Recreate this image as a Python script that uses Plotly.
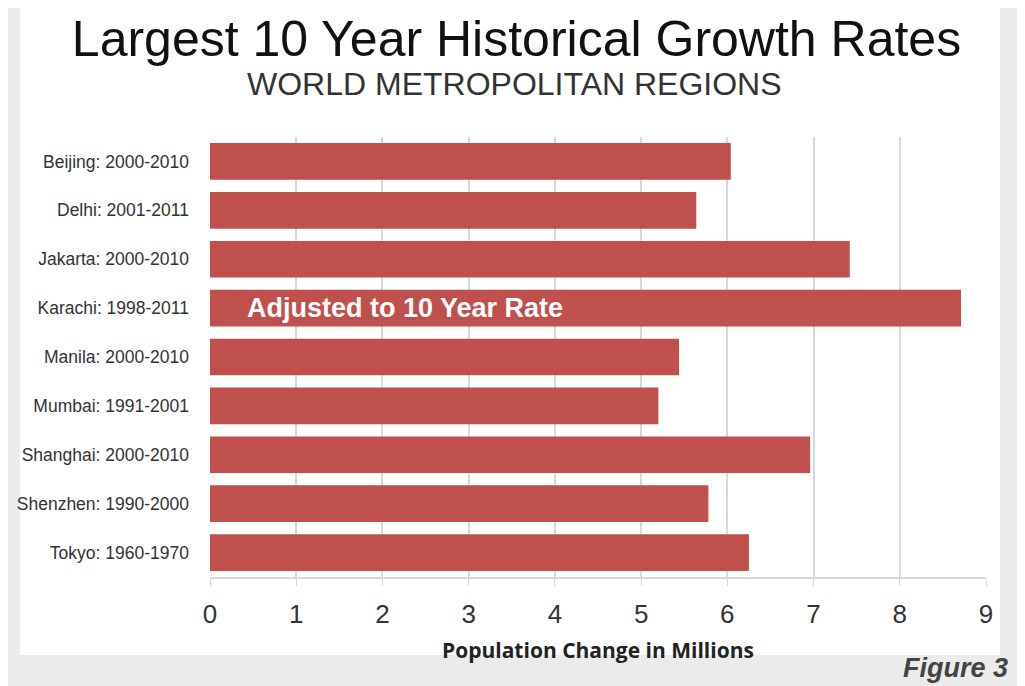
import plotly.graph_objects as go

cities = ["Beijing: 2000-2010", "Delhi: 2001-2011", "Jakarta: 2000-2010", "Karachi: 1998-2011",
          "Manila: 2000-2010", "Mumbai: 1991-2001", "Shanghai: 2000-2010", "Shenzhen: 1990-2000",
          "Tokyo: 1960-1970"]
growth = [6.04, 5.64, 7.42, 8.71, 5.44, 5.20, 6.96, 5.78, 6.25]
x_ticks = [0, 1, 2, 3, 4, 5, 6, 7, 8, 9]

fig = go.Figure(go.Bar(
    x=growth, y=cities, orientation="h",
    marker=dict(color="#c0504d", line=dict(width=0)),
    width=0.75,
))

fig.update_layout(
    width=1017, height=678,
    margin=dict(l=202, r=39, t=129, b=109),
    paper_bgcolor="#ebebeb",
    plot_bgcolor="rgba(0,0,0,0)",
    showlegend=False,
    font=dict(family="Liberation Sans, Arial, sans-serif", color="#333"),
    title=dict(text="Largest 10 Year Historical Growth Rates", x=0.5, xanchor="center",
               y=1 - 30 / 678, yanchor="middle", automargin=False,
               font=dict(size=50, color="#111", family="Liberation Sans, Arial, sans-serif")),
    xaxis=dict(range=[0, 9.0], tickvals=x_ticks, ticktext=[str(v) for v in x_ticks],
               showgrid=True, gridcolor="#d9d9d9", gridwidth=1.5,
               showline=True, linecolor="#d9d9d9", linewidth=1.5,
               ticks="outside", ticklen=7, tickcolor="#d9d9d9",
               tickfont=dict(size=26, color="#333"), ticklabelstandoff=6,
               zeroline=False, fixedrange=True, automargin=False),
    yaxis=dict(categoryorder="array", categoryarray=cities[::-1], autorange=False,
               range=[-0.5, len(cities) - 0.5],
               showgrid=False, showline=False, ticks="",
               tickfont=dict(size=17.5, color="#333"), ticklabelstandoff=20,
               automargin=False),
    shapes=[dict(type="rect", xref="paper", yref="paper", x0=-0.245, x1=1.018, y0=-0.177, y1=1.4,
                 fillcolor="white", line=dict(width=0), layer="below")],
    annotations=[
        dict(text="WORLD METROPOLITAN REGIONS", xref="paper", yref="paper", x=0.393, y=1.12,
             xanchor="center", yanchor="middle", showarrow=False,
             font=dict(size=32, color="#333")),
        dict(text="<b>Population Change in Millions</b>", xref="paper", yref="paper", x=0.5, y=-0.166,
             xanchor="center", yanchor="middle", showarrow=False,
             font=dict(size=21, color="#222", family="Open Sans, Lato, sans-serif")),
        dict(text="<b><i>Figure 3</i></b>", xref="paper", yref="paper", x=1.031, y=-0.207,
             xanchor="right", yanchor="middle", showarrow=False,
             font=dict(size=27, color="#444")),
        dict(text="<b>Adjusted to 10 Year Rate</b>", xref="x", yref="y", x=0.41, y=cities[3],
             xanchor="left", yanchor="middle", showarrow=False,
             font=dict(size=27, color="white")),
    ],
)

fig.write_html("out.html")
